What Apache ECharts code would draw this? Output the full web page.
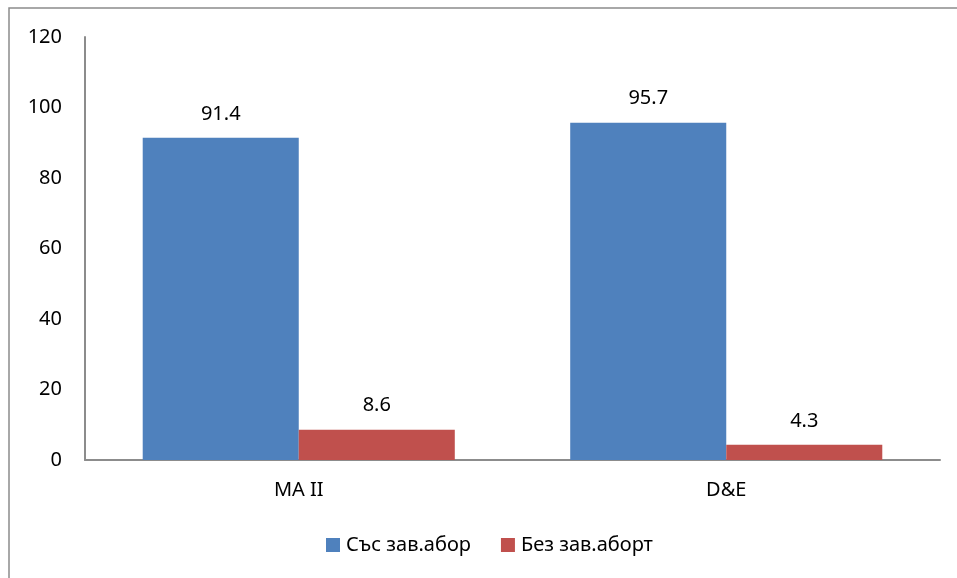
<!DOCTYPE html>
<html>
<head>
<meta charset="utf-8">
<script src="https://cdn.jsdelivr.net/npm/echarts@6/dist/echarts.min.js"></script>
<style>
  html, body { margin: 0; padding: 0; background: #fff; }
  #box { width: 957px; height: 578px; }
</style>
</head>
<body>
<div id="box"></div>
<script>
const categories = ['MA II', 'D&E'];
const seriesNames = ['Със зав.абор', 'Без зав.аборт'];
const withAbortion = [91.4, 95.7];
const withoutAbortion = [8.6, 4.3];
const yTicks = { min: 0, max: 120, interval: 20 };

const colors = ['#4F81BD', '#C0504D'];
const font = '"Noto Sans", "DejaVu Sans", sans-serif';

const chart = echarts.init(document.getElementById('box'));

const label = {
  show: true,
  position: 'top',
  distance: 14,
  color: '#000',
  fontFamily: font,
  fontSize: 20
};

chart.setOption({
  animation: false,
  graphic: [
    {
      type: 'rect',
      shape: { x: 9, y: 8, width: 1000, height: 1000 },
      style: { fill: 'none', stroke: '#8c8c8c', lineWidth: 1.5 },
      silent: true
    }
  ],
  grid: { left: 85, right: 17, top: 37, bottom: 118, containLabel: false },
  legend: {
    left: 321,
    top: 530,
    itemWidth: 14,
    itemHeight: 14,
    itemGap: 30,
    icon: 'rect',
    textStyle: { color: '#000', fontFamily: font, fontSize: 20, padding: [0, 0, 0, 1] },
    data: seriesNames
  },
  xAxis: {
    type: 'category',
    data: categories,
    axisLine: { lineStyle: { color: '#8c8c8c', width: 2 } },
    axisTick: { show: false },
    axisLabel: { color: '#000', fontFamily: font, fontSize: 20, margin: 20 }
  },
  yAxis: {
    type: 'value',
    min: yTicks.min,
    max: yTicks.max,
    interval: yTicks.interval,
    axisLine: { show: true, lineStyle: { color: '#8c8c8c', width: 2 } },
    axisTick: { show: false },
    splitLine: { show: false },
    axisLabel: { color: '#000', fontFamily: font, fontSize: 20, margin: 23 }
  },
  series: [
    {
      name: seriesNames[0],
      type: 'bar',
      data: withAbortion,
      barGap: '0%',
      barCategoryGap: '27%',
      itemStyle: { color: colors[0] },
      label: label
    },
    {
      name: seriesNames[1],
      type: 'bar',
      data: withoutAbortion,
      itemStyle: { color: colors[1] },
      label: label
    }
  ]
});
</script>
</body>
</html>
